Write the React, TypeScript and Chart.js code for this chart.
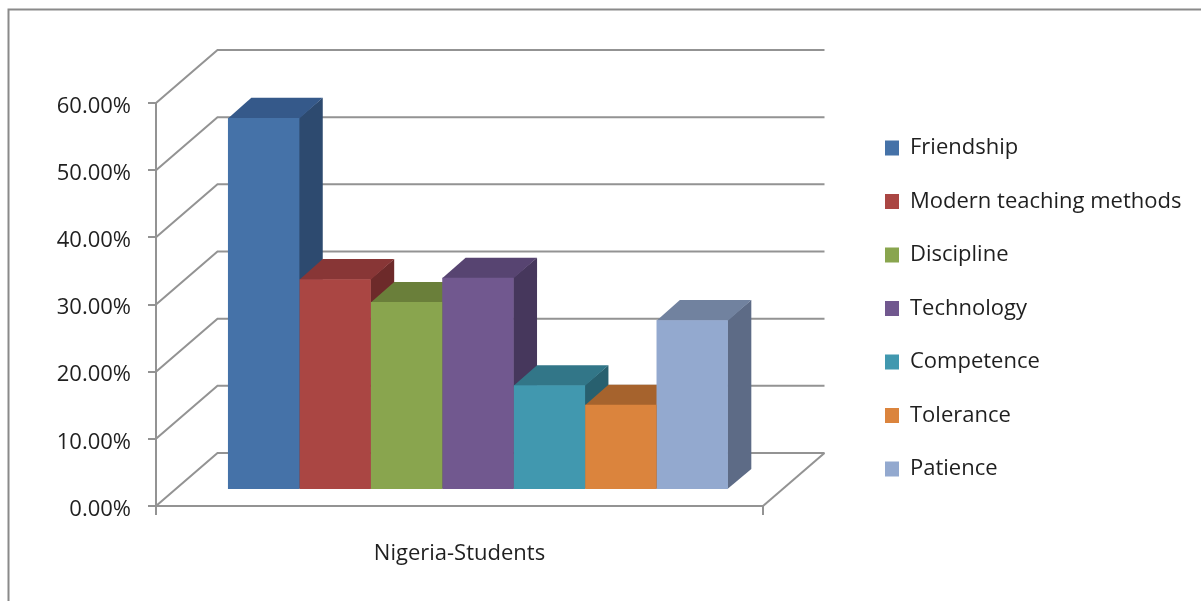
import React, { useEffect, useRef } from 'react';
import { Chart, registerables } from 'chart.js';

Chart.register(...registerables);

// ---- data ----
const categories: string[] = ['Nigeria-Students'];
const seriesNames: string[] = [
  'Friendship',
  'Modern teaching methods',
  'Discipline',
  'Technology',
  'Competence',
  'Tolerance',
  'Patience',
];
const seriesValues: number[] = [55.4, 31.4, 28.0, 31.6, 15.6, 12.7, 25.3];
const yTickValues: number[] = [0, 10, 20, 30, 40, 50, 60];

// ---- styles ----
const frontColors = ['#4572A8', '#AA4643', '#89A54E', '#71588F', '#4198AF', '#DB843D', '#93A9CF'];
const topColors = ['#35598A', '#883636', '#6A7F3A', '#574471', '#327688', '#A6632D', '#71829F'];
const sideColors = ['#2D4A6F', '#6D2A2A', '#566830', '#46375C', '#28606F', '#8A5124', '#5D6B86'];

const FONT_FAMILY = '"Open Sans", sans-serif';
const FONT_SIZE = 22;
const TEXT_COLOR = '#1f1f1f';
const GRID_COLOR = '#939393';
const FRAME_COLOR = '#8a8a8a';

// oblique projection of the floor depth
const DEPTH_X = 61.5;
const DEPTH_Y = 53;
const BAR_NEAR = 0.3;
const BAR_FAR = 0.68;

const W = 1201;
const H = 601;

const threeDPlugin = {
  id: 'threeD',
  beforeDraw(chart: any) {
    const { ctx } = chart;
    ctx.save();
    ctx.fillStyle = '#ffffff';
    ctx.fillRect(0, 0, chart.width, chart.height);
    ctx.strokeStyle = FRAME_COLOR;
    ctx.lineWidth = 2;
    ctx.beginPath();
    ctx.moveTo(8.5, chart.height);
    ctx.lineTo(8.5, 9.5);
    ctx.lineTo(chart.width, 9.5);
    ctx.stroke();
    ctx.restore();
  },
  beforeDatasetsDraw(chart: any) {
    const { ctx, chartArea } = chart;
    const { left, right, bottom } = chartArea;
    const yScale = chart.scales.y;
    // walls (left side wall + back wall) and floor edge
    ctx.save();
    ctx.strokeStyle = GRID_COLOR;
    ctx.lineWidth = 2;
    for (const v of yTickValues) {
      const py = yScale.getPixelForValue(v);
      ctx.beginPath();
      ctx.moveTo(left, py);
      ctx.lineTo(left + DEPTH_X, py - DEPTH_Y);
      ctx.lineTo(right + DEPTH_X, py - DEPTH_Y);
      ctx.stroke();
    }
    ctx.beginPath();
    ctx.moveTo(right, bottom);
    ctx.lineTo(right + DEPTH_X, bottom - DEPTH_Y);
    ctx.stroke();
    ctx.restore();

    // move the bars into their depth plane; faces behind the fronts first
    ctx.save();
    ctx.translate(DEPTH_X * BAR_NEAR, -DEPTH_Y * BAR_NEAR);
    const ddx = DEPTH_X * (BAR_FAR - BAR_NEAR);
    const ddy = DEPTH_Y * (BAR_FAR - BAR_NEAR);
    chart.data.datasets.forEach((_ds: any, i: number) => {
      const meta = chart.getDatasetMeta(i);
      meta.data.forEach((el: any) => {
        const { x, y, base, width } = el.getProps(['x', 'y', 'base', 'width'], true);
        const l = x - width / 2;
        const r = x + width / 2;
        ctx.fillStyle = sideColors[i];
        ctx.beginPath();
        ctx.moveTo(r - 0.5, base);
        ctx.lineTo(r + ddx, base - ddy);
        ctx.lineTo(r + ddx, y - ddy);
        ctx.lineTo(r - 0.5, y);
        ctx.closePath();
        ctx.fill();
        ctx.fillStyle = topColors[i];
        ctx.beginPath();
        ctx.moveTo(l, y + 0.5);
        ctx.lineTo(r, y + 0.5);
        ctx.lineTo(r + ddx, y - ddy);
        ctx.lineTo(l + ddx, y - ddy);
        ctx.closePath();
        ctx.fill();
      });
    });
  },
  afterDatasetsDraw(chart: any) {
    chart.ctx.restore();
  },
};

export default function App() {
  const ref = useRef<HTMLCanvasElement>(null);

  useEffect(() => {
    const canvas = ref.current;
    if (!canvas) return;

    const m = document.createElement('canvas').getContext('2d')!;
    m.font = `${FONT_SIZE}px ${FONT_FAMILY}`;
    const textW = Math.max(...seriesNames.map((s) => m.measureText(s).width));
    const legendPad = 31.5;
    const boxW = 14;
    const boxH = 15;
    const legendW = legendPad + boxW + FONT_SIZE / 2 + textW + 10;
    const chartLeft = 156;
    const chartTop = 103;
    const chartRight = 763;
    const chartBottom = 506;
    const legendBoxLeft = 885;
    const spacerW = legendBoxLeft - legendPad - chartRight;
    const padRight = Math.max(0, W - chartRight - spacerW - legendW);
    const font = { family: FONT_FAMILY, size: FONT_SIZE };

    const chart = new Chart(canvas, {
      type: 'bar',
      data: {
        labels: categories,
        datasets: seriesNames.map((name, i) => ({
          label: name,
          data: [seriesValues[i]],
          backgroundColor: frontColors[i],
          borderWidth: 0,
          barPercentage: 1,
          categoryPercentage: 500 / 607,
        })),
      },
      options: {
        responsive: false,
        animation: false,
        devicePixelRatio: 1,
        events: [],
        layout: { padding: { left: chartLeft - 100, top: chartTop, bottom: 0, right: padRight } },
        plugins: {
          tooltip: { enabled: false },
          title: { display: false },
          legend: {
            position: 'right',
            align: 'start',
            maxWidth: 600,
            title: {
              display: true,
              text: '',
              font: { size: 1, lineHeight: 2.5 },
              padding: 0,
            },
            labels: {
              boxWidth: boxW,
              boxHeight: boxH,
              padding: legendPad,
              color: TEXT_COLOR,
              font,
            },
          },
        },
        scales: {
          x: {
            type: 'category',
            offset: true,
            grid: {
              offset: true,
              drawOnChartArea: false,
              drawTicks: true,
              tickLength: 9,
              color: GRID_COLOR,
              lineWidth: 2,
            },
            border: { display: true, color: GRID_COLOR, width: 2 },
            ticks: { color: TEXT_COLOR, font, padding: 25.5, maxRotation: 0, autoSkip: false },
            afterFit: (s: any) => {
              s.height = H - chartBottom;
            },
          },
          y: {
            type: 'linear',
            position: 'left',
            min: 0,
            max: 60,
            afterBuildTicks: (s: any) => {
              s.ticks = yTickValues.map((v) => ({ value: v }));
            },
            grid: {
              drawOnChartArea: false,
              drawTicks: true,
              tickLength: 8,
              color: GRID_COLOR,
              lineWidth: 2,
            },
            border: { display: true, color: GRID_COLOR, width: 2 },
            ticks: {
              color: TEXT_COLOR,
              font,
              padding: 17,
              labelOffset: 3.5,
              callback: (v: any) => Number(v).toFixed(2) + '%',
            },
            afterFit: (s: any) => {
              s.width = 100;
            },
          },
          spacer: {
            type: 'linear',
            position: 'right',
            display: true,
            grid: { display: false, drawTicks: false },
            border: { display: false },
            ticks: { display: false },
            afterFit: (s: any) => {
              s.width = spacerW;
            },
          },
        },
      },
      plugins: [threeDPlugin],
    } as any);

    return () => chart.destroy();
  }, []);

  return (
    <div style={{ position: 'fixed', left: 0, top: 0, width: W, height: H, background: '#fff' }}>
      <canvas ref={ref} width={W} height={H} style={{ display: 'block' }} />
    </div>
  );
}
